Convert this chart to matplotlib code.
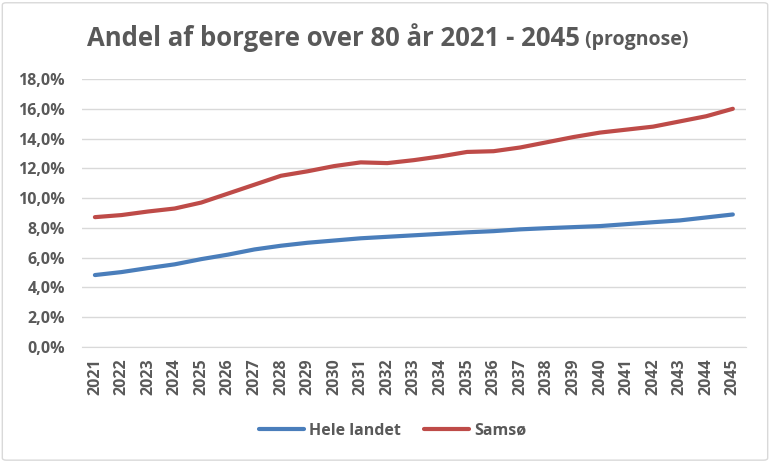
import matplotlib.pyplot as plt
from matplotlib.patches import FancyBboxPatch
from matplotlib.ticker import FuncFormatter

years = [str(y) for y in range(2021, 2046)]
hele_landet = [4.83, 5.03, 5.30, 5.55, 5.90, 6.20, 6.55, 6.80, 7.00, 7.15,
               7.30, 7.40, 7.50, 7.60, 7.70, 7.78, 7.90, 7.98, 8.05, 8.12,
               8.25, 8.38, 8.50, 8.70, 8.90]
samsoe = [8.72, 8.86, 9.10, 9.30, 9.70, 10.30, 10.90, 11.50, 11.80, 12.15,
          12.40, 12.35, 12.55, 12.80, 13.10, 13.15, 13.40, 13.75, 14.10, 14.40,
          14.60, 14.80, 15.15, 15.50, 16.00]

plt.rcParams['font.family'] = ['Open Sans', 'DejaVu Sans']
grey = '#595959'

fig = plt.figure(figsize=(7.7, 4.62), dpi=100)
ax = fig.add_axes([0.106, 0.249, 0.863, 0.580])

# chart border
fig.patches.append(FancyBboxPatch((0.003, 0.004), 0.994, 0.99, boxstyle='round,pad=0,rounding_size=0.005',
                                  transform=fig.transFigure, fill=False, edgecolor='#d9d9d9', linewidth=1))

x = range(len(years))
ax.plot(x, [v / 100 for v in hele_landet], color='#4a7ebb', lw=3, label='Hele landet', solid_capstyle='round')
ax.plot(x, [v / 100 for v in samsoe], color='#be4b48', lw=3, label='Samsø', solid_capstyle='round')

ax.set_xlim(-0.5, len(years) - 0.5)
ax.set_ylim(0, 0.18)
ax.set_yticks([i * 0.02 for i in range(10)])
ax.yaxis.set_major_formatter(FuncFormatter(lambda v, p: f'{v * 100:.1f}%'.replace('.', ',')))
ax.set_xticks(list(x))
ax.set_xticklabels(years, rotation=90)

ax.grid(axis='y', color='#d9d9d9', lw=1)
ax.set_axisbelow(True)
for s in ['top', 'right', 'left']:
    ax.spines[s].set_visible(False)
ax.spines['bottom'].set_color('#d9d9d9')
ax.tick_params(axis='both', length=0, colors=grey, labelsize=11.5)
ax.tick_params(axis='x', pad=8)
ax.tick_params(axis='y', pad=12)
for lbl in ax.get_xticklabels() + ax.get_yticklabels():
    lbl.set_fontweight('bold')

fig.text(580 / 770, 0.918, 'Andel af borgere over 80 år 2021 - 2045', ha='right', va='center',
         fontsize=18.5, fontweight='bold', color=grey)
fig.text(580 / 770, 0.914, ' (prognose)', ha='left', va='center', fontsize=14,
         fontweight='bold', color=grey)

leg = fig.legend(loc='center', bbox_to_anchor=(0.51, 0.068), ncol=2, frameon=False,
                 fontsize=11.5, handlelength=2.8, columnspacing=1.5, handletextpad=0.3)
for t in leg.get_texts():
    t.set_color(grey)
    t.set_fontweight('bold')

fig.savefig('out.png', dpi=100)
